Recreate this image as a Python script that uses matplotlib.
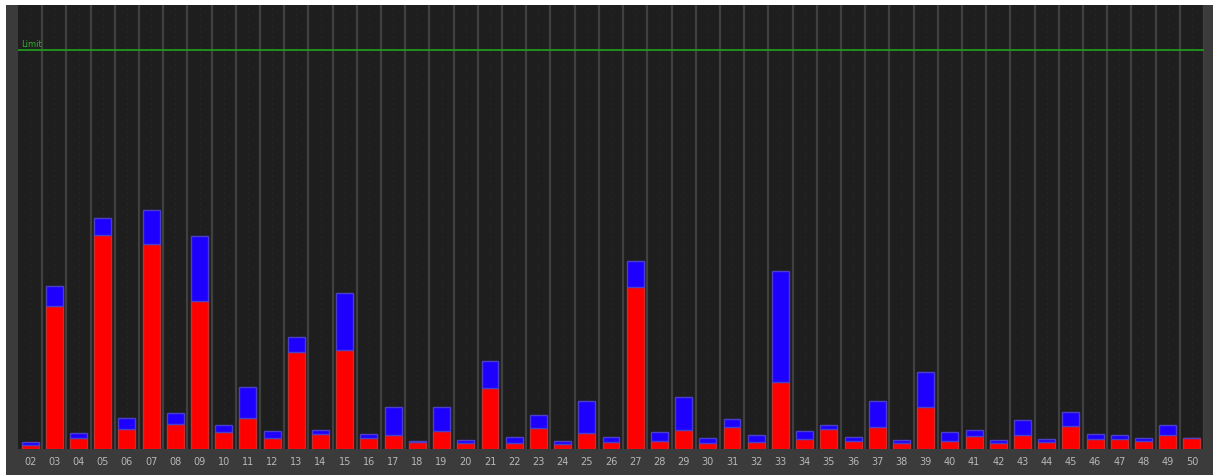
import matplotlib.pyplot as plt
import numpy as np
from matplotlib.patches import Rectangle

days = ['%02d' % d for d in range(2, 51)]

# lower (red) part of each stacked bar, limit = 100
red_vals = [1.0, 35.8, 2.8, 53.6, 5.0, 51.4, 6.2, 37.1, 4.3, 7.8,
            2.7, 24.3, 3.8, 24.8, 2.7, 3.6, 1.8, 4.6, 1.6, 15.2,
            1.4, 5.2, 1.3, 4.0, 1.8, 40.6, 2.1, 4.8, 1.6, 5.5,
            1.8, 16.9, 2.6, 5.1, 2.1, 5.6, 1.4, 10.6, 2.0, 3.3,
            1.4, 3.6, 1.8, 5.8, 2.5, 2.5, 1.9, 3.4, 2.8]
# upper (blue) part
blue_vals = [0.8, 5.0, 1.3, 4.3, 2.8, 8.5, 2.7, 16.3, 1.7, 7.7,
             1.7, 3.8, 0.9, 14.3, 1.0, 7.0, 0.1, 5.9, 0.7, 6.8,
             1.5, 3.3, 0.7, 8.0, 1.3, 6.5, 2.2, 8.2, 1.1, 1.9,
             1.6, 27.8, 2.0, 0.9, 0.9, 6.5, 0.8, 8.8, 2.3, 1.5,
             0.8, 3.6, 0.6, 3.5, 1.3, 1.1, 0.8, 2.7, 0.0]
limit = 100

W, H = 1213, 475
fig = plt.figure(figsize=(W / 100, H / 100), dpi=100, facecolor='white')
# grey frame around the plot
fig.patches.append(Rectangle((6 / W, 0), 1 - 6 / W, (H - 5) / H,
                             transform=fig.transFigure, facecolor='#3b3b3b',
                             edgecolor='none', zorder=-10))

ax = fig.add_axes([18 / W, (H - 449) / H, (1204 - 18) / W, (449 - 5) / H])
ax.set_facecolor('#1e1e1e')

x = np.arange(len(days))
for i in x:
    ax.axvline(i + 0.5, color='#404040', lw=1.6, zorder=1)
    ax.axvline(i, color='#262626', lw=0.8, ls=(0, (2, 3)), zorder=1)

ax.bar(x, red_vals, width=0.7, color='#ff0000', edgecolor='#c83030', lw=1, zorder=3)
ax.bar(x, blue_vals, width=0.7, bottom=red_vals, color='#1e00ff',
       edgecolor='#4a40c8', lw=1, zorder=3)

ax.axhline(limit, color='#1f9a1f', lw=1.3, zorder=4)
ax.text(0.003, limit + 0.8, 'Limit', color='#2fb02f', fontsize=6,
        transform=ax.get_yaxis_transform(), zorder=5)

ax.set_xlim(-0.5, len(days) - 0.5)
ax.set_ylim(0, (449 - 5) / 3.99)
ax.set_xticks(x)
ax.set_xticklabels(days, color='#b8b8b8', fontsize=7)
ax.tick_params(axis='x', length=0, pad=6)
ax.set_yticks([])
for s in ax.spines.values():
    s.set_visible(False)

fig.savefig('out.png', dpi=100, facecolor=fig.get_facecolor())
